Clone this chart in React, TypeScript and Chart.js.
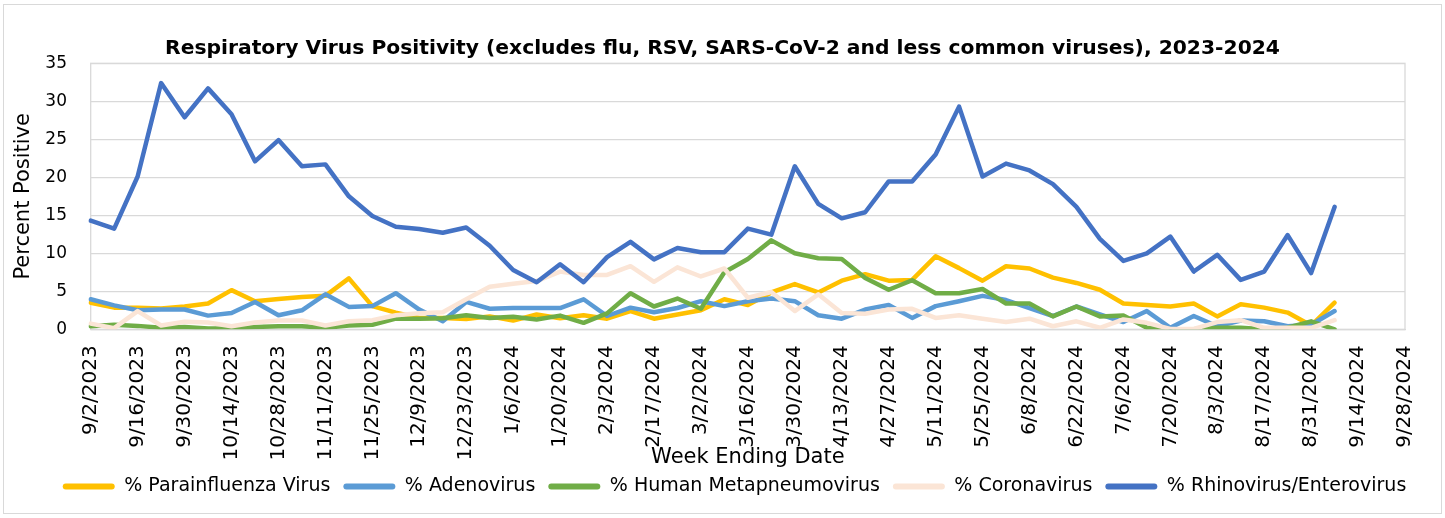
import React, { useEffect, useRef } from "react";
import { Chart, registerables } from "chart.js";

Chart.register(...registerables);

const weekLabels = [
  "9/2/2023", "9/9/2023", "9/16/2023", "9/23/2023", "9/30/2023", "10/7/2023", "10/14/2023", "10/21/2023",
  "10/28/2023", "11/4/2023", "11/11/2023", "11/18/2023", "11/25/2023", "12/2/2023", "12/9/2023", "12/16/2023",
  "12/23/2023", "12/30/2023", "1/6/2024", "1/13/2024", "1/20/2024", "1/27/2024", "2/3/2024", "2/10/2024",
  "2/17/2024", "2/24/2024", "3/2/2024", "3/9/2024", "3/16/2024", "3/23/2024", "3/30/2024", "4/6/2024",
  "4/13/2024", "4/20/2024", "4/27/2024", "5/4/2024", "5/11/2024", "5/18/2024", "5/25/2024", "6/1/2024",
  "6/8/2024", "6/15/2024", "6/22/2024", "6/29/2024", "7/6/2024", "7/13/2024", "7/20/2024", "7/27/2024",
  "8/3/2024", "8/10/2024", "8/17/2024", "8/24/2024", "8/31/2024", "9/7/2024", "9/14/2024", "9/21/2024",
  "9/28/2024",
];

const parainfluenza = [
  3.5, 2.85, 2.85, 2.75, 3.0, 3.4, 5.15, 3.7, 4.0, 4.25, 4.4, 6.7, 3.05, 2.2, 1.5, 1.5, 1.35, 1.7,
  1.15, 1.95, 1.45, 1.85, 1.4, 2.4, 1.4, 1.95, 2.5, 3.95, 3.2, 4.85, 5.95, 4.85, 6.4, 7.25, 6.4, 6.5,
  9.6, 8.05, 6.4, 8.3, 8.0, 6.8, 6.1, 5.2, 3.4, 3.2, 3.0, 3.4, 1.7, 3.3, 2.85, 2.2, 0.5, 3.5,
];

const adenovirus = [
  3.95, 3.15, 2.5, 2.6, 2.6, 1.8, 2.15, 3.6, 1.85, 2.5, 4.6, 2.95, 3.05, 4.75, 2.6, 1.05, 3.6, 2.7,
  2.8, 2.8, 2.8, 3.95, 1.75, 2.85, 2.25, 2.8, 3.7, 3.05, 3.7, 4.05, 3.7, 1.85, 1.4, 2.6, 3.2, 1.5,
  3.05, 3.7, 4.4, 3.85, 2.8, 1.75, 3.0, 1.95, 0.95, 2.4, 0.2, 1.75, 0.4, 1.15, 1.05, 0.4, 0.6, 2.4,
];

const metapneumovirus = [
  0.4, 0.6, 0.45, 0.2, 0.3, 0.1, 0.1, 0.3, 0.4, 0.4, 0.2, 0.5, 0.6, 1.4, 1.4, 1.45, 1.85, 1.5,
  1.65, 1.3, 1.8, 0.85, 2.1, 4.75, 3.0, 4.05, 2.7, 7.5, 9.25, 11.7, 10.0, 9.35, 9.25, 6.75, 5.2, 6.45,
  4.75, 4.75, 5.3, 3.4, 3.4, 1.7, 3.0, 1.7, 1.8, 0.2, 0.0, 0.0, 0.2, 0.2, 0.0, 0.2, 1.05, 0.0,
];

const coronavirus = [
  0.75, 0.15, 2.4, 0.5, 1.0, 0.9, 0.4, 0.9, 1.15, 1.15, 0.5, 1.05, 1.2, 1.85, 2.1, 2.25, 3.95, 5.6,
  6.0, 6.35, 7.6, 7.15, 7.15, 8.3, 6.25, 8.15, 6.95, 8.0, 4.15, 4.9, 2.4, 4.6, 2.15, 2.05, 2.6, 2.7,
  1.5, 1.85, 1.4, 0.95, 1.4, 0.4, 1.05, 0.2, 1.3, 0.85, 0.05, 0.05, 0.95, 1.2, 0.2, 0.2, 0.2, 1.2,
];

const rhinoEnterovirus = [
  14.3, 13.25, 20.1, 32.4, 27.9, 31.7, 28.3, 22.1, 24.9, 21.45, 21.7, 17.5, 14.9, 13.5, 13.2, 12.7, 13.4, 11.0,
  7.8, 6.2, 8.55, 6.2, 9.5, 11.5, 9.2, 10.7, 10.15, 10.15, 13.25, 12.45, 21.45, 16.5, 14.6, 15.4, 19.45, 19.45,
  23.0, 29.3, 20.1, 21.8, 20.9, 19.1, 16.1, 11.9, 9.0, 10.0, 12.2, 7.6, 9.8, 6.5, 7.6, 12.4, 7.4, 16.1,
];

const seriesNames = [
  "% Parainfluenza Virus",
  "% Adenovirus",
  "% Human Metapneumovirus",
  "% Coronavirus",
  "% Rhinovirus/Enterovirus",
];
const seriesColors = ["#FFC000", "#5B9BD5", "#70AD47", "#FBE5D6", "#4472C4"];
const seriesData = [parainfluenza, adenovirus, metapneumovirus, coronavirus, rhinoEnterovirus];

const yMin = 0;
const yMax = 35;
const yStep = 5;

const titleText = "Respiratory Virus Positivity (excludes flu, RSV, SARS-CoV-2 and less common viruses), 2023-2024";
const xTitle = "Week Ending Date";
const yTitle = "Percent Positive";

const FONT = "'DejaVu Sans', Verdana, sans-serif";
const GRID = "#d9d9d9";

const framePlugin = {
  id: "frame",
  beforeDraw(chart: any) {
    const { ctx, width, height } = chart;
    ctx.save();
    ctx.fillStyle = "#ffffff";
    ctx.fillRect(0, 0, width, height);
    ctx.strokeStyle = GRID;
    ctx.lineWidth = 1;
    ctx.strokeRect(3.5, 4.5, width - 7, height - 9);
    ctx.restore();
  },
  afterLayout(chart: any) {
    const lg = chart.legend;
    if (lg) {
      lg.left += 12;
      lg.right += 12;
    }
  },
  beforeDatasetsDraw(chart: any) {
    const { ctx, chartArea } = chart;
    ctx.save();
    ctx.strokeStyle = GRID;
    ctx.lineWidth = 1.3;
    ctx.strokeRect(chartArea.left, chartArea.top, chartArea.right - chartArea.left, chartArea.bottom - chartArea.top);
    ctx.restore();
  },
};

export default function App() {
  const canvasRef = useRef<HTMLCanvasElement | null>(null);

  useEffect(() => {
    const canvas = canvasRef.current;
    if (!canvas) return;
    const datasets = seriesNames.map((name, i) => ({
      label: name,
      data: seriesData[i],
      borderColor: seriesColors[i],
      backgroundColor: seriesColors[i],
      borderWidth: 4.5,
      pointRadius: 0,
      pointHoverRadius: 0,
      tension: 0,
      fill: false,
      borderCapStyle: "round" as const,
      borderJoinStyle: "round" as const,
      order: seriesNames.length - i,
      yAxisID: "y",
    }));

    const chart = new Chart(canvas, {
      type: "line",
      data: { labels: weekLabels, datasets },
      plugins: [framePlugin],
      options: {
        animation: false,
        responsive: false,
        maintainAspectRatio: false,
        devicePixelRatio: 1,
        layout: { padding: { left: 14, right: 14, top: 0, bottom: 12 } },
        plugins: {
          tooltip: { enabled: false },
          title: {
            display: true,
            text: titleText,
            color: "#000000",
            font: { family: FONT, size: 20.3, weight: "bold", lineHeight: 1 },
            padding: { top: 39, bottom: 4 },
          },
          legend: {
            display: true,
            position: "bottom",
            labels: {
              boxWidth: 52,
              boxHeight: 6,
              useBorderRadius: true,
              borderRadius: 3,
              padding: 13,
              color: "#000000",
              font: { family: FONT, size: 19, lineHeight: 1 },
              sort: (a: any, b: any) => a.datasetIndex - b.datasetIndex,
              generateLabels: (c: any) =>
                Chart.defaults.plugins.legend.labels.generateLabels(c).map((item: any) => ({
                  ...item,
                  lineWidth: 0,
                  strokeStyle: "rgba(0,0,0,0)",
                  fillStyle: seriesColors[item.datasetIndex],
                })),
            },
          },
        },
        scales: {
          x: {
            type: "category",
            offset: false,
            grid: { display: false, drawTicks: false },
            border: { display: true, color: GRID, width: 1.3 },
            ticks: {
              autoSkip: false,
              maxRotation: 90,
              minRotation: 90,
              padding: 16,
              color: "#000000",
              font: { family: FONT, size: 20 },
              callback: (_v: any, i: number) => (i % 2 === 0 ? weekLabels[i] : ""),
            },
            title: {
              display: true,
              text: xTitle,
              color: "#000000",
              font: { family: FONT, size: 21, lineHeight: 1 },
              padding: { top: 0, bottom: -4.5 },
            },
            afterFit: (s: any) => {
              s.height = 134.7;
            },
          },
          y: {
            position: "left",
            min: yMin,
            max: yMax,
            grid: { color: GRID, lineWidth: 1.3, drawTicks: false },
            border: { display: false },
            ticks: {
              stepSize: yStep,
              padding: 23.7,
              color: "#000000",
              font: { family: FONT, size: 17 },
            },
            title: {
              display: true,
              text: yTitle,
              color: "#000000",
              font: { family: FONT, size: 21, lineHeight: 1 },
              padding: { top: -0.5, bottom: 0 },
            },
            afterFit: (s: any) => {
              s.width = 76.7;
            },
          },
          y2: {
            position: "right",
            display: true,
            grid: { display: false, drawTicks: false },
            border: { display: false },
            ticks: { display: false },
            afterFit: (s: any) => {
              s.width = 15;
            },
          },
        },
      },
    } as any);

    return () => chart.destroy();
  }, []);

  return (
    <div style={{ position: "absolute", left: 0, top: 0, width: 1445, height: 518, background: "#fff" }}>
      <canvas ref={canvasRef} width={1445} height={518} style={{ width: 1445, height: 518, display: "block" }} />
    </div>
  );
}
